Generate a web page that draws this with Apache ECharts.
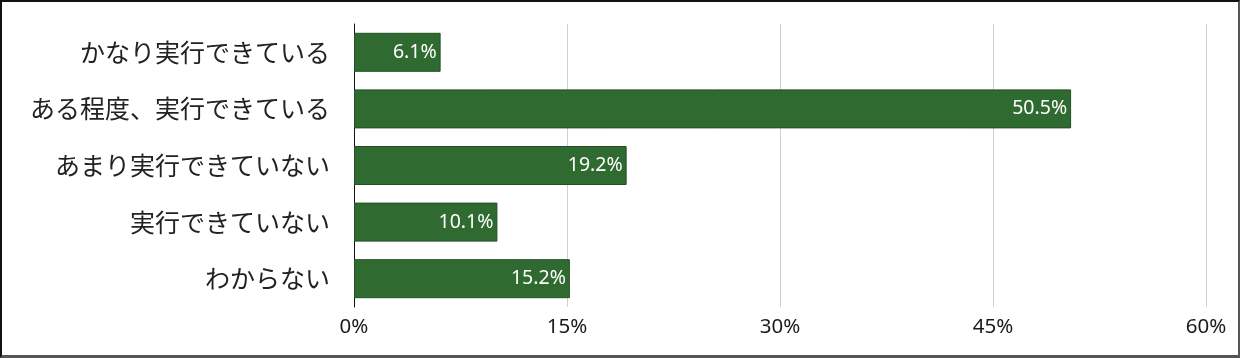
<!DOCTYPE html>
<html><head><meta charset="utf-8">
<script src="https://cdn.jsdelivr.net/npm/echarts@6/dist/echarts.min.js"></script>
<style>
html,body{margin:0;padding:0;background:#fff;}
#wrap{position:absolute;left:0;top:0;width:1240px;height:358px;box-sizing:border-box;border-top:2px solid #111;border-left:2px solid #111;border-right:2px solid #555;border-bottom:3px solid #555;}
#c{position:absolute;left:0;top:0;width:1240px;height:358px;}
</style></head>
<body><div id="c"></div><div id="wrap"></div>
<script>
const categories = ["かなり実行できている","ある程度、実行できている","あまり実行できていない","実行できていない","わからない"];
const values = [6.1, 50.5, 19.2, 10.1, 15.2];
const tickLabels = ["0%","15%","30%","45%","60%"];

const chart = echarts.init(document.getElementById('c'), null, {renderer:'canvas'});
chart.setOption({
  animation:false,
  backgroundColor:'#fff',
  grid:{left:354, right:34, top:24, bottom:51, containLabel:false},
  xAxis:{
    type:'value', min:0, max:60, interval:15,
    axisLine:{show:false}, axisTick:{show:false},
    splitLine:{show:true, lineStyle:{color:'#d0d0d0', width:1}},
    axisLabel:{margin:10, fontSize:20.5, color:'#1a1a1a', fontFamily:'"Noto Sans","Open Sans",sans-serif',
      formatter:function(v){return tickLabels[Math.round(v/15)];}}
  },
  yAxis:{
    type:'category', inverse:true, data:categories,
    axisLine:{show:true, lineStyle:{color:'#111', width:1}}, axisTick:{show:false},
    axisLabel:{margin:24, fontSize:25, color:'#222', fontFamily:'"Noto Sans CJK JP",sans-serif'}
  },
  series:[{
    type:'bar', data:values, barWidth:39,
    itemStyle:{color:'#2f6a30', borderColor:'#234f24', borderWidth:1},
    label:{show:true, position:'insideRight', distance:4, color:'#fff', fontSize:19.5,
      fontFamily:'"Noto Sans","Open Sans",sans-serif',
      formatter:function(p){return p.value.toFixed(1)+'%';}}
  }]
});
</script></body></html>
